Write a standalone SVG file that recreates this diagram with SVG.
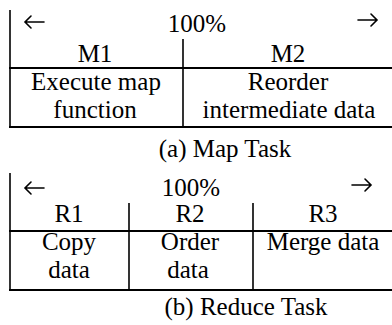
<svg xmlns="http://www.w3.org/2000/svg" width="392" height="325" viewBox="0 0 392 325">
  <style>
    text { font-family: 'Liberation Serif', 'Times New Roman', serif; font-size: 25px; fill: #000; text-anchor: middle; }
    .rule { stroke: #000; stroke-width: 2; fill: none; }
    .col { stroke: #000; stroke-width: 1.6; fill: none; }
    .arrow { stroke: #000; stroke-width: 1.6; fill: none; stroke-linecap: round; stroke-linejoin: miter; }
  </style>
  <defs>
    <path id="arrow-left" class="arrow" d="M 20 0 H 1 M 7 -6 L 1 0 L 7 6"/>
    <path id="arrow-right" class="arrow" d="M 0 0 H 19 M 13 -6 L 19 0 L 13 6"/>
  </defs>
  <rect width="392" height="325" fill="#fff"/>

  <!-- (a) Map task table -->
  <g id="map-table">
    <line class="col" x1="10" y1="10" x2="10" y2="128"/>
    <line class="col" x1="183" y1="39" x2="183" y2="128"/>
    <line class="rule" x1="9" y1="68" x2="392" y2="68"/>
    <line class="rule" x1="9" y1="127" x2="392" y2="127"/>
    <use href="#arrow-left" x="24" y="22"/>
    <text x="197" y="32">100%</text>
    <use href="#arrow-right" x="358" y="20"/>
    <g id="m1">
      <text x="95" y="62">M1</text>
      <text x="96" y="90">Execute map</text>
      <text x="95" y="118">function</text>
    </g>
    <g id="m2">
      <text x="288" y="62">M2</text>
      <text x="288" y="90">Reorder</text>
      <text x="289" y="118">intermediate data</text>
    </g>
    <text x="225" y="157">(a) Map Task</text>
  </g>

  <!-- (b) Reduce task table -->
  <g id="reduce-table">
    <line class="col" x1="10" y1="173" x2="10" y2="291"/>
    <line class="col" x1="129" y1="203" x2="129" y2="291"/>
    <line class="col" x1="253" y1="203" x2="253" y2="291"/>
    <line class="rule" x1="9" y1="231" x2="392" y2="231"/>
    <line class="rule" x1="9" y1="290" x2="392" y2="290"/>
    <use href="#arrow-left" x="24" y="188"/>
    <text x="191" y="196">100%</text>
    <use href="#arrow-right" x="352" y="185"/>
    <g id="r1">
      <text x="69" y="222">R1</text>
      <text x="69" y="250">Copy</text>
      <text x="69" y="278">data</text>
    </g>
    <g id="r2">
      <text x="190" y="222">R2</text>
      <text x="190" y="250">Order</text>
      <text x="188" y="278">data</text>
    </g>
    <g id="r3">
      <text x="323" y="222">R3</text>
      <text x="323" y="250">Merge data</text>
    </g>
    <text x="246" y="315">(b) Reduce Task</text>
  </g>
</svg>
